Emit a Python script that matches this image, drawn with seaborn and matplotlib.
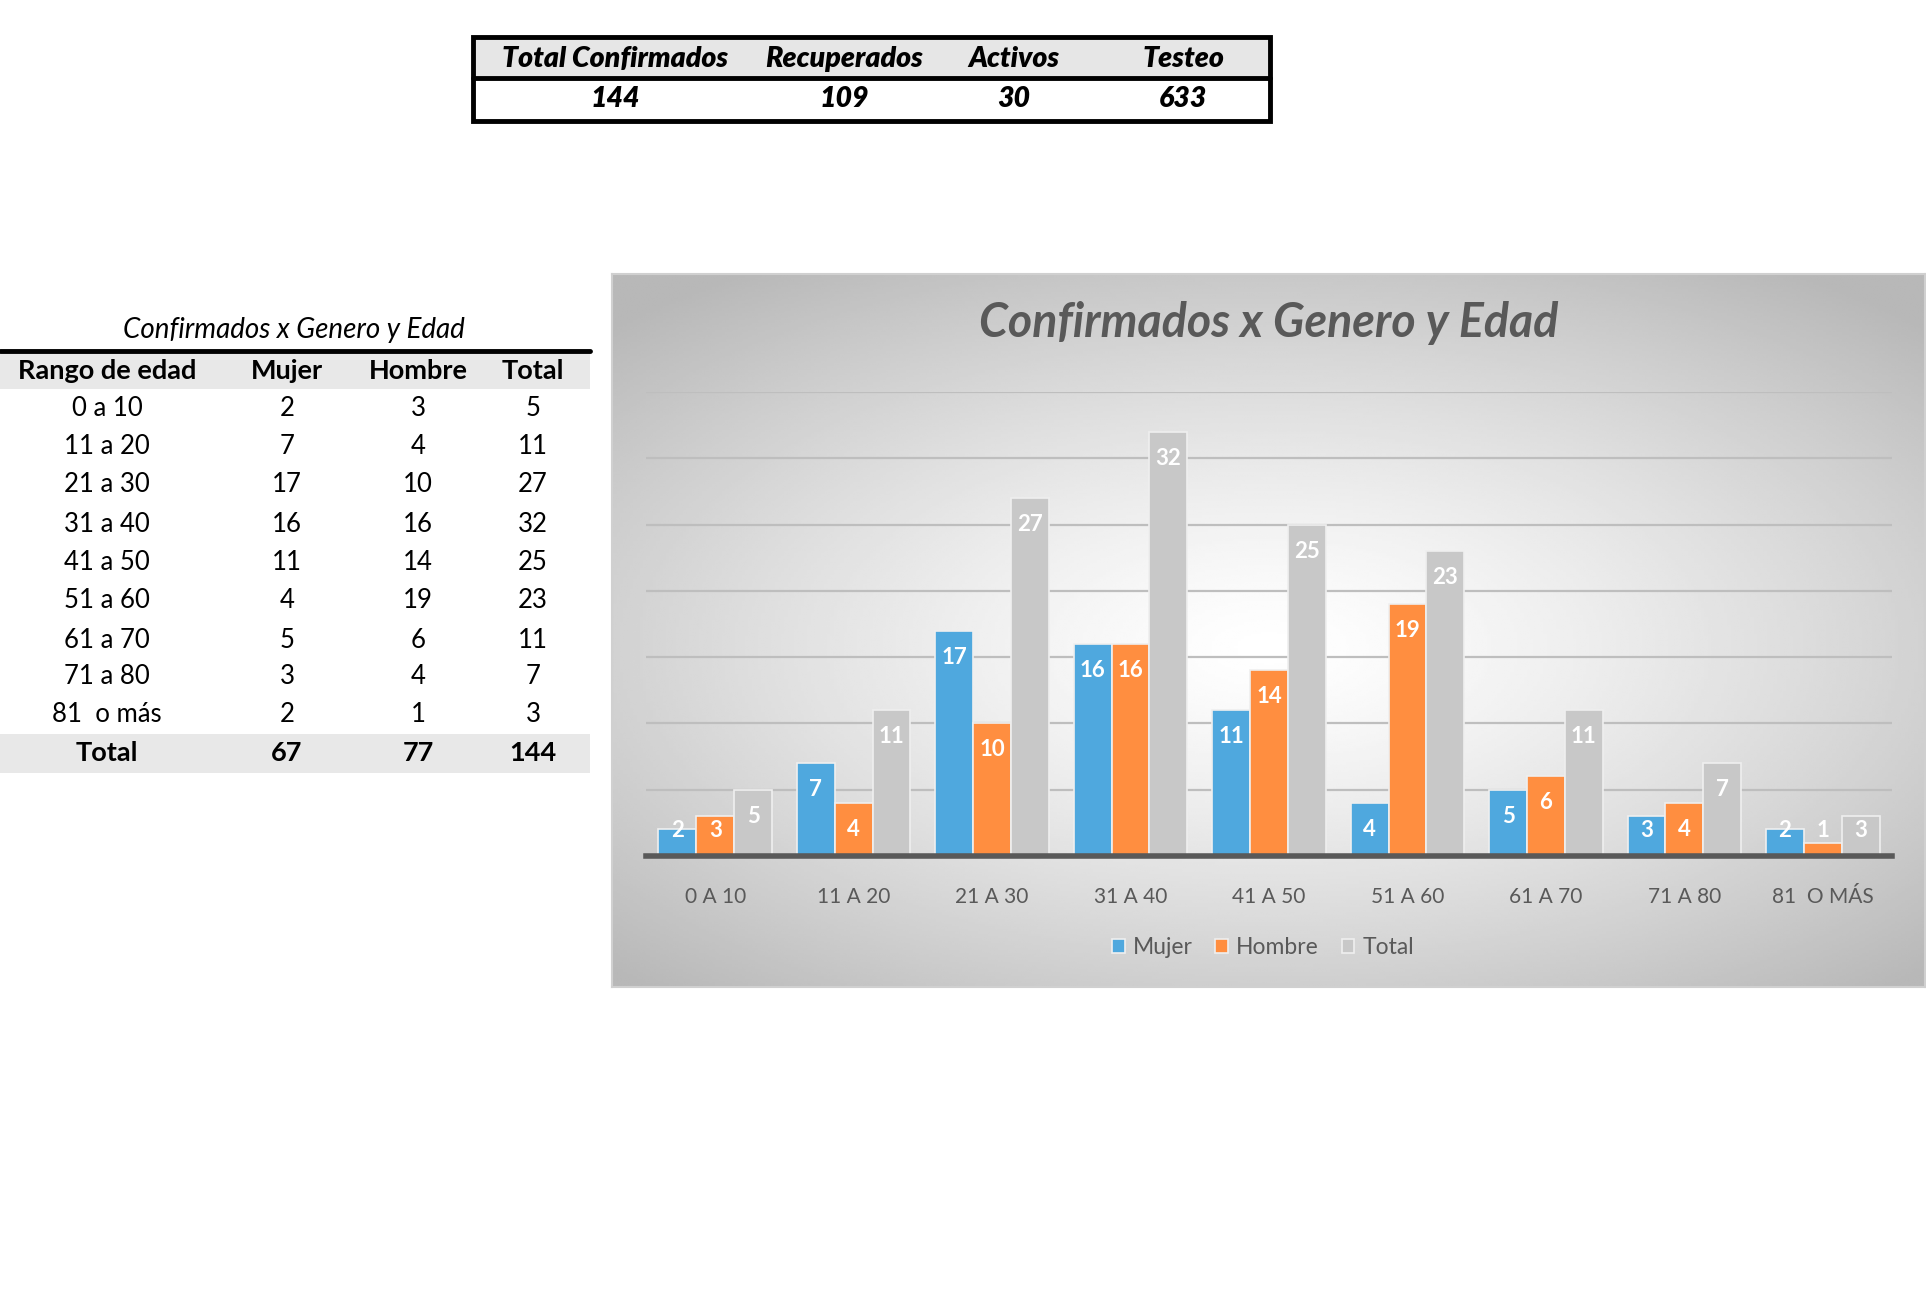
import numpy as np
import pandas as pd
import seaborn as sns
import matplotlib.pyplot as plt
from matplotlib.patches import Rectangle

# resumen superior
resumen_titulos = ["Total Confirmados", "Recuperados", "Activos", "Testeo"]
resumen_valores = [144, 109, 30, 633]

# tabla por genero y edad
rangos = ["0 a 10", "11 a 20", "21 a 30", "31 a 40", "41 a 50",
          "51 a 60", "61 a 70", "71 a 80", "81  o más"]
mujer = [2, 7, 17, 16, 11, 4, 5, 3, 2]
hombre = [3, 4, 10, 16, 14, 19, 6, 4, 1]
total = [5, 11, 27, 32, 25, 23, 11, 7, 3]
totales_fila = ["Total", 67, 77, 144]
columnas = ["Rango de edad", "Mujer", "Hombre", "Total"]

titulo = "Confirmados x Genero y Edad"
colores = {"Mujer": "#4FA8DE", "Hombre": "#FF8E40", "Total": "#C8C8C8"}

sns.set_theme(style="white")
plt.rcParams['font.family'] = ['Lato', 'DejaVu Sans']

W, H = 1926, 1293
fig = plt.figure(figsize=(W / 100, H / 100), dpi=100)
fig.patch.set_facecolor("white")

# ---- panel del grafico con fondo degradado ----
px0, px1, py0, py1 = 612, 1925, 274, 987
panel = fig.add_axes([px0 / W, 1 - py1 / H, (px1 - px0) / W, (py1 - py0) / H])
gx, gy = np.meshgrid(np.linspace(-1, 1, 400), np.linspace(-1, 1, 300))
r = np.sqrt((gx * 0.95) ** 2 + ((gy + 0.05) * 1.05) ** 2)
grad = 1.0 - 0.28 * np.clip(r / 1.35, 0, 1) ** 1.3
panel.imshow(grad, cmap="gray", vmin=0, vmax=1, extent=[0, 1, 0, 1],
             aspect="auto", origin="lower", interpolation="bilinear")
panel.set_xlim(0, 1)
panel.set_ylim(0, 1)
panel.set_xticks([])
panel.set_yticks([])
for s in panel.spines.values():
    s.set_color("#D0D0D0")
    s.set_linewidth(1.5)

# ---- grafico de barras ----
ax0, ax1, ay_top, ay_base = 646, 1892, 392, 856
ax = fig.add_axes([ax0 / W, 1 - ay_base / H, (ax1 - ax0) / W, (ay_base - ay_top) / H])
ax.patch.set_alpha(0)

df = pd.DataFrame({"rango": [x.upper() for x in rangos],
                   "Mujer": mujer, "Hombre": hombre, "Total": total})
largo = df.melt(id_vars="rango", var_name="serie", value_name="casos")

sns.barplot(data=largo, x="rango", y="casos", hue="serie", palette=colores,
            width=0.82, gap=0, edgecolor="#EFEFEF", linewidth=1.2,
            saturation=1, ax=ax, legend=True, zorder=3)

ax.set_ylim(0, 35)
ax.set_xlim(-0.5, 8.5)
ax.set_yticks(range(5, 36, 5))
ax.yaxis.grid(True, color="#BEBEBE", linewidth=1.6)
ax.set_axisbelow(True)
ax.tick_params(axis="y", left=False, labelleft=False)
ax.tick_params(axis="x", bottom=False, labelsize=15, labelcolor="#595959", pad=16)
ax.set_xlabel("")
ax.set_ylabel("")
for s in ["top", "right", "left"]:
    ax.spines[s].set_visible(False)
ax.spines["bottom"].set_color("#595959")
ax.spines["bottom"].set_linewidth(4)
ax.spines["bottom"].set_zorder(5)

for cont in ax.containers:
    for bar in cont:
        v = bar.get_height()
        y = max(v - 2.0, 1.9)
        ax.text(bar.get_x() + bar.get_width() / 2, y, f"{int(v)}",
                ha="center", va="center", color="white", fontsize=16,
                fontweight="bold", zorder=6)

leg = ax.legend(loc="center", bbox_to_anchor=(1263 / W, 1 - 948 / H),
                bbox_transform=fig.transFigure, ncol=3, frameon=False,
                fontsize=16.5, handlelength=0.55, handleheight=0.55,
                handletextpad=0.35, columnspacing=1.0)
for t in leg.get_texts():
    t.set_color("#595959")

fig.text(1269 / W, 1 - 323 / H, titulo, ha="center", va="center",
         fontsize=33.5, fontweight="bold", style="italic", color="#595959")

# ---- capa para tablas en pixeles ----
ov = fig.add_axes([0, 0, 1, 1], zorder=-1)
ov.set_xlim(0, W)
ov.set_ylim(H, 0)
ov.axis("off")

# tabla resumen superior
ov.add_patch(Rectangle((473, 37), 797, 41, facecolor="#E6E6E6", edgecolor="none"))
ov.add_patch(Rectangle((473, 37), 797, 84, facecolor="none", edgecolor="black", linewidth=3.5))
ov.plot([473, 1270], [78, 78], color="black", linewidth=3.5)
cx_res = [615, 844, 1014, 1183]
for cx, t, v in zip(cx_res, resumen_titulos, resumen_valores):
    ov.text(cx, 59, t, ha="center", va="center", fontsize=20.5,
            fontweight="heavy", style="italic", color="black")
    ov.text(cx, 99, str(v), ha="center", va="center", fontsize=20.5,
            fontweight="heavy", style="italic", color="black")

# tabla izquierda
ov.text(294, 330, titulo, ha="center", va="center", fontsize=20,
        style="italic", color="black")
ov.plot([0, 590], [351, 351], color="black", linewidth=3.5)
ov.add_patch(Rectangle((0, 354), 590, 35, facecolor="#E8E8E8", edgecolor="none"))
ov.add_patch(Rectangle((0, 734), 590, 39, facecolor="#E8E8E8", edgecolor="none"))
cx_tab = [107, 287, 418, 533]
for cx, c in zip(cx_tab, columnas):
    ov.text(cx, 371, c, ha="center", va="center", fontsize=19.5,
            fontweight="bold", color="black")
filas_y = [408, 447, 485, 524, 562, 601, 640, 677, 715]
for y, rg, m, h, t in zip(filas_y, rangos, mujer, hombre, total):
    for cx, val in zip(cx_tab, [rg, m, h, t]):
        ov.text(cx, y, str(val), ha="center", va="center", fontsize=18.5,
                color="black")
for cx, val in zip(cx_tab, totales_fila):
    ov.text(cx, 753, str(val), ha="center", va="center", fontsize=19.5,
            fontweight="bold", color="black")

fig.savefig("out.png", dpi=100)
